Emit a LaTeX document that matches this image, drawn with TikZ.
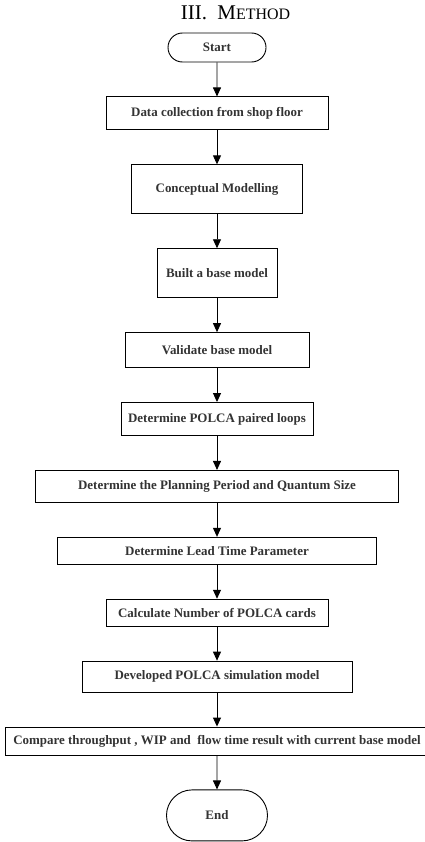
\documentclass[tikz,border=0pt]{standalone}
\usepackage{fontspec}
\setmainfont{Liberation Serif}
\usepackage{tikz}
\usetikzlibrary{shapes.misc,arrows.meta,positioning}

\begin{document}
\begin{tikzpicture}[x=1bp, y=-1bp, node distance=34bp,
    procbox/.style={rectangle, draw, line width=0.9bp, inner sep=1bp,
      font=\fontsize{13}{15}\selectfont\bfseries, text=black!80},
    termbox/.style={rounded rectangle, draw, line width=0.9bp, inner sep=1bp,
      font=\fontsize{13}{15}\selectfont\bfseries, text=black!80},
    flowarrow/.style={-{Triangle[length=9bp,width=8bp]}, line width=0.9bp}]
  \useasboundingbox (0,0) rectangle (424,842);
  \node[font=\fontsize{21}{23}\selectfont] (title) at (235.5,13)
    {III.\enspace M{\fontsize{16}{18}\selectfont ETHOD}};

  \node[termbox, minimum width=100bp, minimum height=29bp] (start) at (217,47.5) {Start};
  \node[procbox, minimum width=222bp, minimum height=33bp, below=of start] (collect)
    {Data collection from shop floor};
  \node[procbox, minimum width=171bp, minimum height=49bp, below=of collect] (concept)
    {Conceptual Modelling};
  \node[procbox, minimum width=120bp, minimum height=49bp, below=of concept] (base)
    {Built a base model};
  \node[procbox, minimum width=184bp, minimum height=35bp, below=of base] (validate)
    {Validate base model};
  \node[procbox, minimum width=192bp, minimum height=33bp, below=of validate] (loops)
    {Determine POLCA paired loops};
  \node[procbox, minimum width=363bp, minimum height=32bp, below=of loops] (period)
    {Determine the Planning Period and Quantum Size};
  \node[procbox, minimum width=319bp, minimum height=27bp, below=of period] (lead)
    {Determine Lead Time Parameter};
  \node[procbox, minimum width=222bp, minimum height=27bp, below=of lead] (cards)
    {Calculate Number of POLCA cards};
  \node[procbox, minimum width=270bp, minimum height=31bp, below=of cards] (simul)
    {Developed POLCA simulation model};
  \node[procbox, minimum width=424bp, minimum height=28bp, below=of simul] (compare)
    {Compare throughput , WIP and\ \ flow time result with current base model};
  \node[termbox, minimum width=103bp, minimum height=51bp, below=of compare] (finish) {End};

  % arrows down the chain
  \foreach \from/\to in {start/collect, collect/concept, concept/base, base/validate,
      validate/loops, loops/period, period/lead, lead/cards, cards/simul,
      simul/compare, compare/finish}
    \draw[flowarrow] (\from) -- (\to);
\end{tikzpicture}
\end{document}
